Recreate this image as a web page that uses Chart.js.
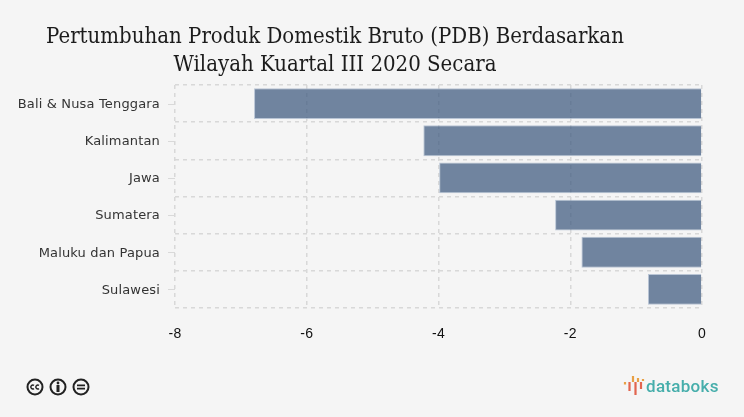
<!DOCTYPE html>
<html><head><meta charset="utf-8">
<script src="https://cdn.jsdelivr.net/npm/chart.js@4"></script>
<style>
html,body{margin:0;padding:0;background:#f5f5f5;width:744px;height:417px;overflow:hidden}
#wrap{position:relative;width:744px;height:417px}
canvas{position:absolute;left:0;top:0}
#title{position:absolute;left:0;top:22px;width:670px;text-align:center;font:22px/27.5px "DejaVu Serif Condensed","DejaVu Serif",serif;font-stretch:condensed;color:#1c1c1c}
#cc{position:absolute;left:26px;top:378px}
#logo{position:absolute;left:623px;top:375px}
#brand{position:absolute;left:646px;top:374px;font:500 17px/24px Roboto,sans-serif;color:#46aeab;letter-spacing:.3px}
</style></head><body>
<div id="wrap">
<canvas id="c" width="744" height="417"></canvas>
<div id="title">Pertumbuhan Produk Domestik Bruto (PDB) Berdasarkan<br>Wilayah Kuartal III 2020 Secara</div>
<svg id="cc" width="66" height="18" viewBox="0 0 66 18" fill="none" stroke="#222" stroke-width="2">
<circle cx="9" cy="9" r="7.5"/><circle cx="32" cy="9" r="7.5"/><circle cx="55" cy="9" r="7.5"/>
<path d="M8 7.4a2 2 0 1 0 0 3.2M13 7.4a2 2 0 1 0 0 3.2" stroke-width="1.4"/>
<circle cx="32" cy="5" r="1.4" fill="#222" stroke="none"/><path d="M32 7v7" stroke-width="3"/>
<path d="M51 7.4h8M51 10.600h8" stroke-width="1.6"/>
</svg>
<svg id="logo" width="22" height="21" viewBox="0 0 22 21" fill="none" stroke-width="2.2">
<path d="M2 7v2.500M10 1v6M15 3v4M20 4v2" stroke="#e8a045"/>
<path d="M6.500 7v9M12.500 7v13M18 7v7" stroke="#e2654f"/>
</svg>
<div id="brand">databoks</div>
</div>
<script>
const categories=["Bali & Nusa Tenggara","Kalimantan","Jawa","Sumatera","Maluku dan Papua","Sulawesi"];
const values=[-6.8,-4.23,-3.99,-2.23,-1.83,-0.82];
const xTicks=[-8,-6,-4,-2,0];
const gridColor="#d8d8d8";
const labelTicks={id:"labelTicks",
 beforeDraw(chart){chart.ctx.letterSpacing="0.16px";},
 afterDraw(chart){
  const s=chart.scales.y,ctx=chart.ctx;
  ctx.save();ctx.strokeStyle="#d9d9d9";ctx.lineWidth=1;
  categories.forEach((c,i)=>{const y=Math.round(s.getPixelForTick(i))+.5;
    ctx.beginPath();ctx.moveTo(s.right-7,y);ctx.lineTo(s.right,y);ctx.stroke();});
  ctx.restore();
}};
new Chart(document.getElementById("c"),{
  type:"bar",
  data:{labels:categories,datasets:[{data:values,backgroundColor:"rgba(67,93,130,.75)",borderColor:"rgba(170,185,205,.8)",borderWidth:1,barPercentage:.83,categoryPercentage:1}]},
  options:{
    indexAxis:"y",responsive:false,animation:false,devicePixelRatio:1,
    layout:{padding:{top:85,right:42,left:0,bottom:0}},
    plugins:{legend:{display:false},title:{display:false},tooltip:{enabled:false}},
    scales:{
      x:{min:-8,max:0,afterBuildTicks(a){a.ticks=xTicks.map(v=>({value:v}));},
        afterFit(a){a.height=109;},
        grid:{color:gridColor,lineWidth:1.5,tickLength:0,drawTicks:false},
        border:{display:false,dash:[4,4]},
        ticks:{color:"#111",padding:18,maxRotation:0,font:{family:"'Liberation Sans'",size:14}}},
      y:{afterFit(a){a.width=175;},
        grid:{color:gridColor,lineWidth:1.5,offset:true,drawTicks:false,tickLength:0},
        border:{display:false,dash:[4,4]},
        ticks:{color:"#333",padding:15,labelOffset:1,font:{family:"'DejaVu Sans'",size:13}}}
    }
  },
  plugins:[labelTicks]
});
</script>
</body></html>
